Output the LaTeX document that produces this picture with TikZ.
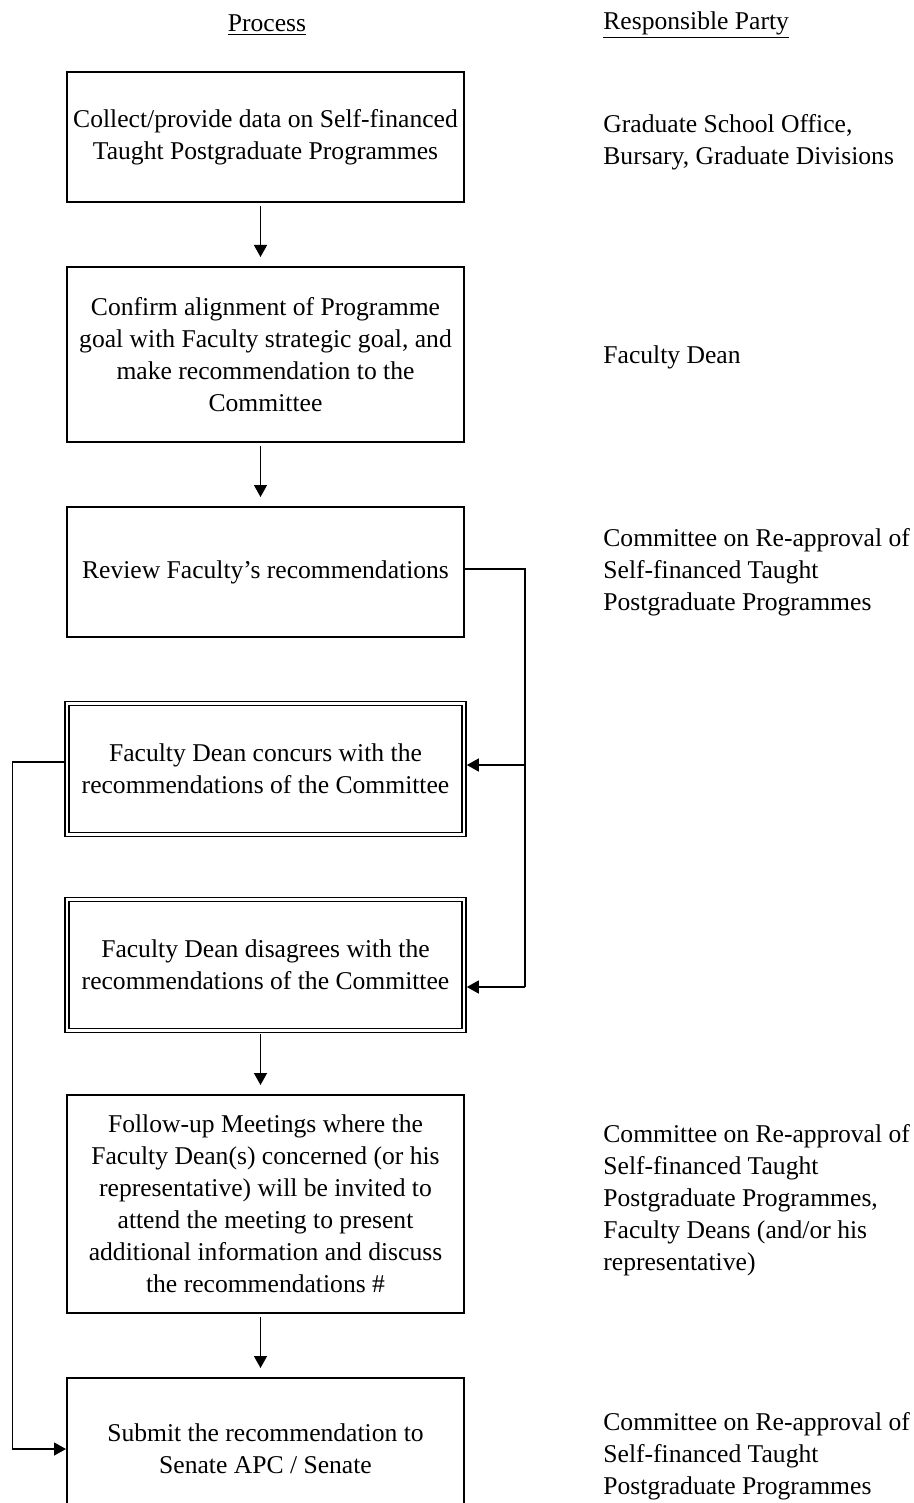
\documentclass[tikz,border=0pt]{standalone}
\usepackage{fontspec}
\setmainfont{Liberation Serif}
\usetikzlibrary{arrows.meta}

\tikzset{
  procbox/.style={draw, line width=1pt, minimum width=198.5pt, inner sep=0pt, align=center},
  dblbox/.style={procbox, line width=0.8pt, double, double distance=1.2pt},
  party/.style={anchor=west, align=left, inner sep=0pt},
  conn/.style={line width=0.7pt},
  arr/.style={conn, -{Triangle[length=6pt,width=6.5pt]}}
}

\begin{document}
\begin{tikzpicture}[x=0.5pt, y=-0.5pt, every node/.style={font=\fontsize{12.8}{16}\selectfont}]
    \useasboundingbox (0,0) rectangle (914,1503);

    % Headings
    \node (hproc) at (267,25) {\underline{Process}};
    \node[party] (hparty) at (603,25) {\underline{Responsible Party}};

    % Process boxes
    \node[procbox, minimum height=65pt] (b1) at (265.5,137)
        {Collect/provide data on Self-financed\\Taught Postgraduate Programmes};
    \node[procbox, minimum height=87.5pt] (b2) at (265.5,354.5)
        {Confirm alignment of Programme\\goal with Faculty strategic goal, and\\make recommendation to the\\Committee};
    \node[procbox, minimum height=65pt] (b3) at (265.5,572)
        {Review Faculty's recommendations};
    \node[dblbox, minimum height=65.5pt] (b4) at (265.5,769)
        {Faculty Dean concurs with the\\recommendations of the Committee};
    \node[dblbox, minimum height=65.5pt] (b5) at (265.5,965)
        {Faculty Dean disagrees with the\\recommendations of the Committee};
    \node[procbox, minimum height=109pt] (b6) at (265.5,1204)
        {Follow-up Meetings where the\\Faculty Dean(s) concerned (or his\\representative) will be invited to\\attend the meeting to present\\additional information and discuss\\the recommendations \#};
    \node[procbox, minimum height=71pt] (b7) at (265.5,1449)
        {Submit the recommendation to\\Senate APC / Senate};

    % Responsible parties
    \node[party] (p1) at (603,142) {Graduate School Office,\\Bursary, Graduate Divisions};
    \node[party] (p2) at (603,357) {Faculty Dean};
    \node[party] (p3) at (603,572) {Committee on Re-approval of\\Self-financed Taught\\Postgraduate Programmes};
    \node[party] (p4) at (603,1200) {Committee on Re-approval of\\Self-financed Taught\\Postgraduate Programmes,\\Faculty Deans (and/or his\\representative)};
    \node[party] (p5) at (603,1456) {Committee on Re-approval of\\Self-financed Taught\\Postgraduate Programmes};

    % Main flow
    \foreach \a/\b in {b1/b2, b2/b3, b5/b6, b6/b7} {
        \draw[arr, shorten <=1.5pt, shorten >=4.5pt] ([xshift=-2.5pt]\a.south) -- ([xshift=-2.5pt]\b.north);
    }

    % Committee review to both outcomes
    \coordinate (rtop) at (525,569);
    \coordinate (rmid) at (525,765);
    \coordinate (rbot) at (525,987);
    \draw[conn] (rtop -| b3.east) -- (rtop) -- (rbot);
    \draw[arr, shorten >=1pt] (rmid) -- (rmid -| b4.east);
    \draw[arr, shorten >=1pt] (rbot) -- (rbot -| b5.east);

    % Concurrence goes straight to Senate
    \draw[arr] ([yshift=3.5pt]b4.west) -- ++(-54,0) |- (b7.west);
\end{tikzpicture}
\end{document}
